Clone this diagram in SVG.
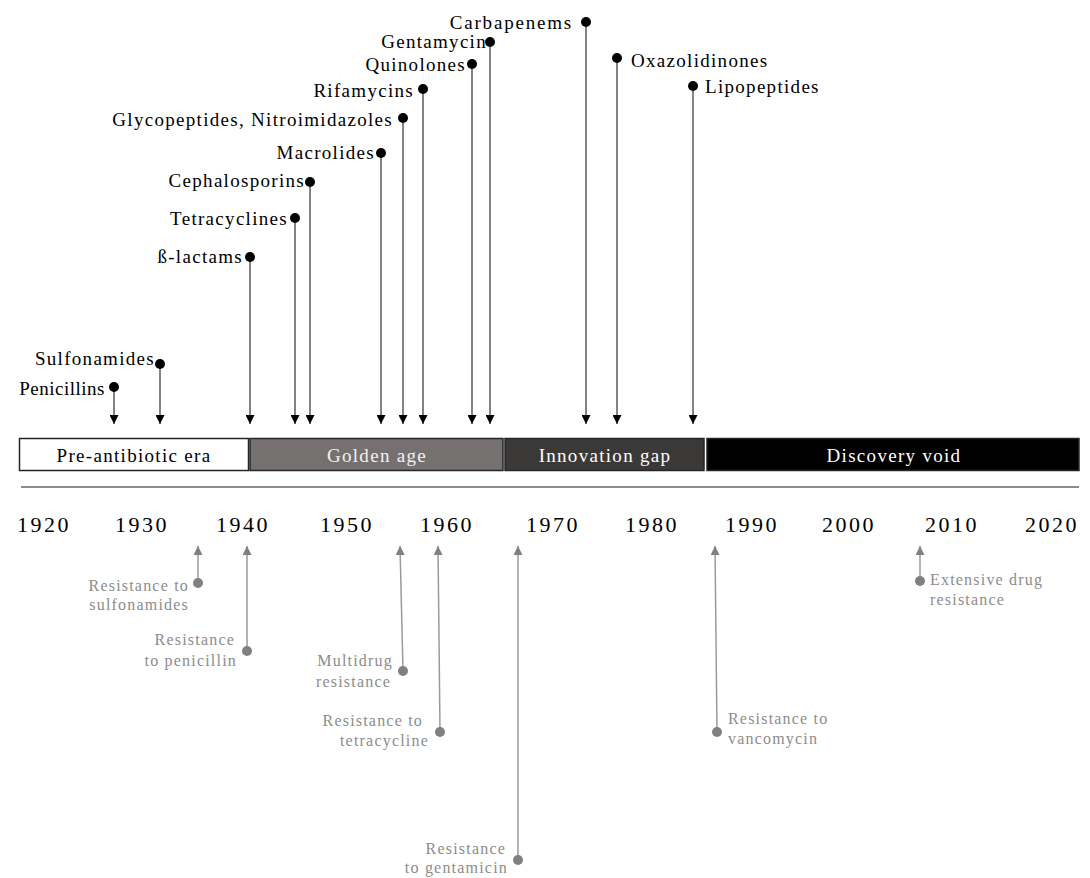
<svg xmlns="http://www.w3.org/2000/svg" width="1090" height="878" viewBox="0 0 1090 878">
<style>
.drug{font-family:"Liberation Serif","Times New Roman",serif;font-size:19px;fill:#000;letter-spacing:1.3px}
.dl{stroke:#5a5a5a;stroke-width:1.5;fill:none}
.dd{fill:#000}
.res{font-family:"Liberation Serif","Times New Roman",serif;font-size:16px;fill:#8c8c8c;letter-spacing:1.2px}
.rl{stroke:#9a9a9a;stroke-width:1.5;fill:none}
.rd{fill:#808080}
.bar{stroke:#262626;stroke-width:1.5}
.bt{font-family:"Liberation Serif","Times New Roman",serif;font-size:19px;letter-spacing:1.3px;text-anchor:middle}
.yr{font-family:"Liberation Serif","Times New Roman",serif;font-size:22px;letter-spacing:2.5px;text-anchor:middle;fill:#000}
</style>
<defs>
<marker id="ah" viewBox="0 0 9 9" refX="9" refY="4.5" markerWidth="9" markerHeight="9" markerUnits="userSpaceOnUse" orient="auto"><path d="M0,0 L9,4.5 L0,9 z" fill="#000"/></marker>
<marker id="ahg" viewBox="0 0 9 9" refX="9" refY="4.5" markerWidth="9" markerHeight="9" markerUnits="userSpaceOnUse" orient="auto"><path d="M0,0 L9,4.5 L0,9 z" fill="#808080"/></marker>
</defs>
<rect width="1090" height="878" fill="#fff"/>

<g id="connectors">
<line class="dl" x1="114" y1="387" x2="114" y2="424" marker-end="url(#ah)"/>
<line class="dl" x1="160" y1="364" x2="160" y2="424" marker-end="url(#ah)"/>
<line class="dl" x1="250" y1="257" x2="250" y2="424" marker-end="url(#ah)"/>
<line class="dl" x1="295" y1="218" x2="295" y2="424" marker-end="url(#ah)"/>
<line class="dl" x1="310" y1="182" x2="310" y2="424" marker-end="url(#ah)"/>
<line class="dl" x1="381" y1="153" x2="381" y2="424" marker-end="url(#ah)"/>
<line class="dl" x1="403" y1="118" x2="403" y2="424" marker-end="url(#ah)"/>
<line class="dl" x1="423" y1="89" x2="423" y2="424" marker-end="url(#ah)"/>
<line class="dl" x1="472" y1="64" x2="472" y2="424" marker-end="url(#ah)"/>
<line class="dl" x1="490" y1="42" x2="490" y2="424" marker-end="url(#ah)"/>
<line class="dl" x1="586" y1="22" x2="586" y2="424" marker-end="url(#ah)"/>
<line class="dl" x1="617" y1="58" x2="617" y2="424" marker-end="url(#ah)"/>
<line class="dl" x1="693" y1="86" x2="693" y2="424" marker-end="url(#ah)"/>

<line class="rl" x1="198" y1="583" x2="198" y2="546" marker-end="url(#ahg)"/>
<line class="rl" x1="247" y1="651" x2="247" y2="546" marker-end="url(#ahg)"/>
<line class="rl" x1="403" y1="671" x2="400" y2="546" marker-end="url(#ahg)"/>
<line class="rl" x1="440" y1="732" x2="438" y2="546" marker-end="url(#ahg)"/>
<line class="rl" x1="518" y1="860" x2="518" y2="546" marker-end="url(#ahg)"/>
<line class="rl" x1="717" y1="732" x2="715" y2="546" marker-end="url(#ahg)"/>
<line class="rl" x1="920" y1="581" x2="920" y2="546" marker-end="url(#ahg)"/>
</g>

<g id="drug-penicillins"><circle class="dd" cx="114" cy="387" r="5"/><text class="drug" x="105" y="395" text-anchor="end" style="letter-spacing:0.5px">Penicillins</text></g>
<g id="drug-sulfonamides"><circle class="dd" cx="160" cy="364" r="5"/><text class="drug" x="155" y="365" text-anchor="end">Sulfonamides</text></g>
<g id="drug-betalactams"><circle class="dd" cx="250" cy="257" r="5"/><text class="drug" x="243" y="263" text-anchor="end">ß-lactams</text></g>
<g id="drug-tetracyclines"><circle class="dd" cx="295" cy="218" r="5"/><text class="drug" x="288" y="225" text-anchor="end">Tetracyclines</text></g>
<g id="drug-cephalosporins"><circle class="dd" cx="310" cy="182" r="5"/><text class="drug" x="305" y="187" text-anchor="end">Cephalosporins</text></g>
<g id="drug-macrolides"><circle class="dd" cx="381" cy="153" r="5"/><text class="drug" x="375" y="159" text-anchor="end">Macrolides</text></g>
<g id="drug-glycopeptides"><circle class="dd" cx="403" cy="118" r="5"/><text class="drug" x="393" y="126" text-anchor="end">Glycopeptides, Nitroimidazoles</text></g>
<g id="drug-rifamycins"><circle class="dd" cx="423" cy="89" r="5"/><text class="drug" x="414" y="97" text-anchor="end">Rifamycins</text></g>
<g id="drug-quinolones"><circle class="dd" cx="472" cy="64" r="5"/><text class="drug" x="466" y="71" text-anchor="end">Quinolones</text></g>
<g id="drug-gentamycin"><circle class="dd" cx="490" cy="42" r="5"/><text class="drug" x="487" y="48" text-anchor="end">Gentamycin</text></g>
<g id="drug-carbapenems"><circle class="dd" cx="586" cy="22" r="5"/><text class="drug" x="573" y="29" text-anchor="end" style="letter-spacing:1.8px">Carbapenems</text></g>
<g id="drug-oxazolidinones"><circle class="dd" cx="617" cy="58" r="5"/><text class="drug" x="631" y="67">Oxazolidinones</text></g>
<g id="drug-lipopeptides"><circle class="dd" cx="693" cy="86" r="5"/><text class="drug" x="705" y="93">Lipopeptides</text></g>

<g id="era-preantibiotic"><rect class="bar" x="19.5" y="438.5" width="229" height="32" fill="#fff"/><text class="bt" x="134" y="462" fill="#000">Pre-antibiotic era</text></g>
<g id="era-golden"><rect class="bar" x="250" y="438.5" width="253" height="32" fill="#767171"/><text class="bt" x="377" y="462" fill="#f2f2f2">Golden age</text></g>
<g id="era-innovation"><rect class="bar" x="505" y="438.5" width="199" height="32" fill="#3b3838"/><text class="bt" x="605" y="462" fill="#fff">Innovation gap</text></g>
<g id="era-discovery"><rect class="bar" x="707" y="438.5" width="372" height="32" fill="#000"/><text class="bt" x="894" y="462" fill="#fff">Discovery void</text></g>

<g id="axis">
<line x1="21" y1="487" x2="1079" y2="487" stroke="#666" stroke-width="1.5"/>
<text class="yr" x="44" y="532">1920</text>
<text class="yr" x="142" y="532">1930</text>
<text class="yr" x="243" y="532">1940</text>
<text class="yr" x="347" y="532">1950</text>
<text class="yr" x="447" y="532">1960</text>
<text class="yr" x="553" y="532">1970</text>
<text class="yr" x="652" y="532">1980</text>
<text class="yr" x="752" y="532">1990</text>
<text class="yr" x="849" y="532">2000</text>
<text class="yr" x="952" y="532">2010</text>
<text class="yr" x="1052" y="532">2020</text>
</g>

<g id="res-sulfonamides"><circle class="rd" cx="198" cy="583" r="5"/><text class="res" text-anchor="end"><tspan x="189" y="591">Resistance to</tspan><tspan x="189" y="610">sulfonamides</tspan></text></g>
<g id="res-penicillin"><circle class="rd" cx="247" cy="651" r="5"/><text class="res" text-anchor="end"><tspan x="235" y="645">Resistance</tspan><tspan x="237" y="666">to penicillin</tspan></text></g>
<g id="res-multidrug"><circle class="rd" cx="403" cy="671" r="5"/><text class="res" text-anchor="end"><tspan x="393" y="666">Multidrug</tspan><tspan x="391" y="687">resistance</tspan></text></g>
<g id="res-tetracycline"><circle class="rd" cx="440" cy="732" r="5"/><text class="res" text-anchor="end"><tspan x="423" y="726">Resistance to</tspan><tspan x="429" y="746">tetracycline</tspan></text></g>
<g id="res-gentamicin"><circle class="rd" cx="518" cy="860" r="5"/><text class="res" text-anchor="end"><tspan x="506" y="854">Resistance</tspan><tspan x="508" y="873">to gentamicin</tspan></text></g>
<g id="res-vancomycin"><circle class="rd" cx="717" cy="732" r="5"/><text class="res"><tspan x="728" y="724">Resistance to</tspan><tspan x="728" y="744">vancomycin</tspan></text></g>
<g id="res-extensive"><circle class="rd" cx="920" cy="581" r="5"/><text class="res"><tspan x="930" y="585">Extensive drug</tspan><tspan x="930" y="605">resistance</tspan></text></g>
</svg>
